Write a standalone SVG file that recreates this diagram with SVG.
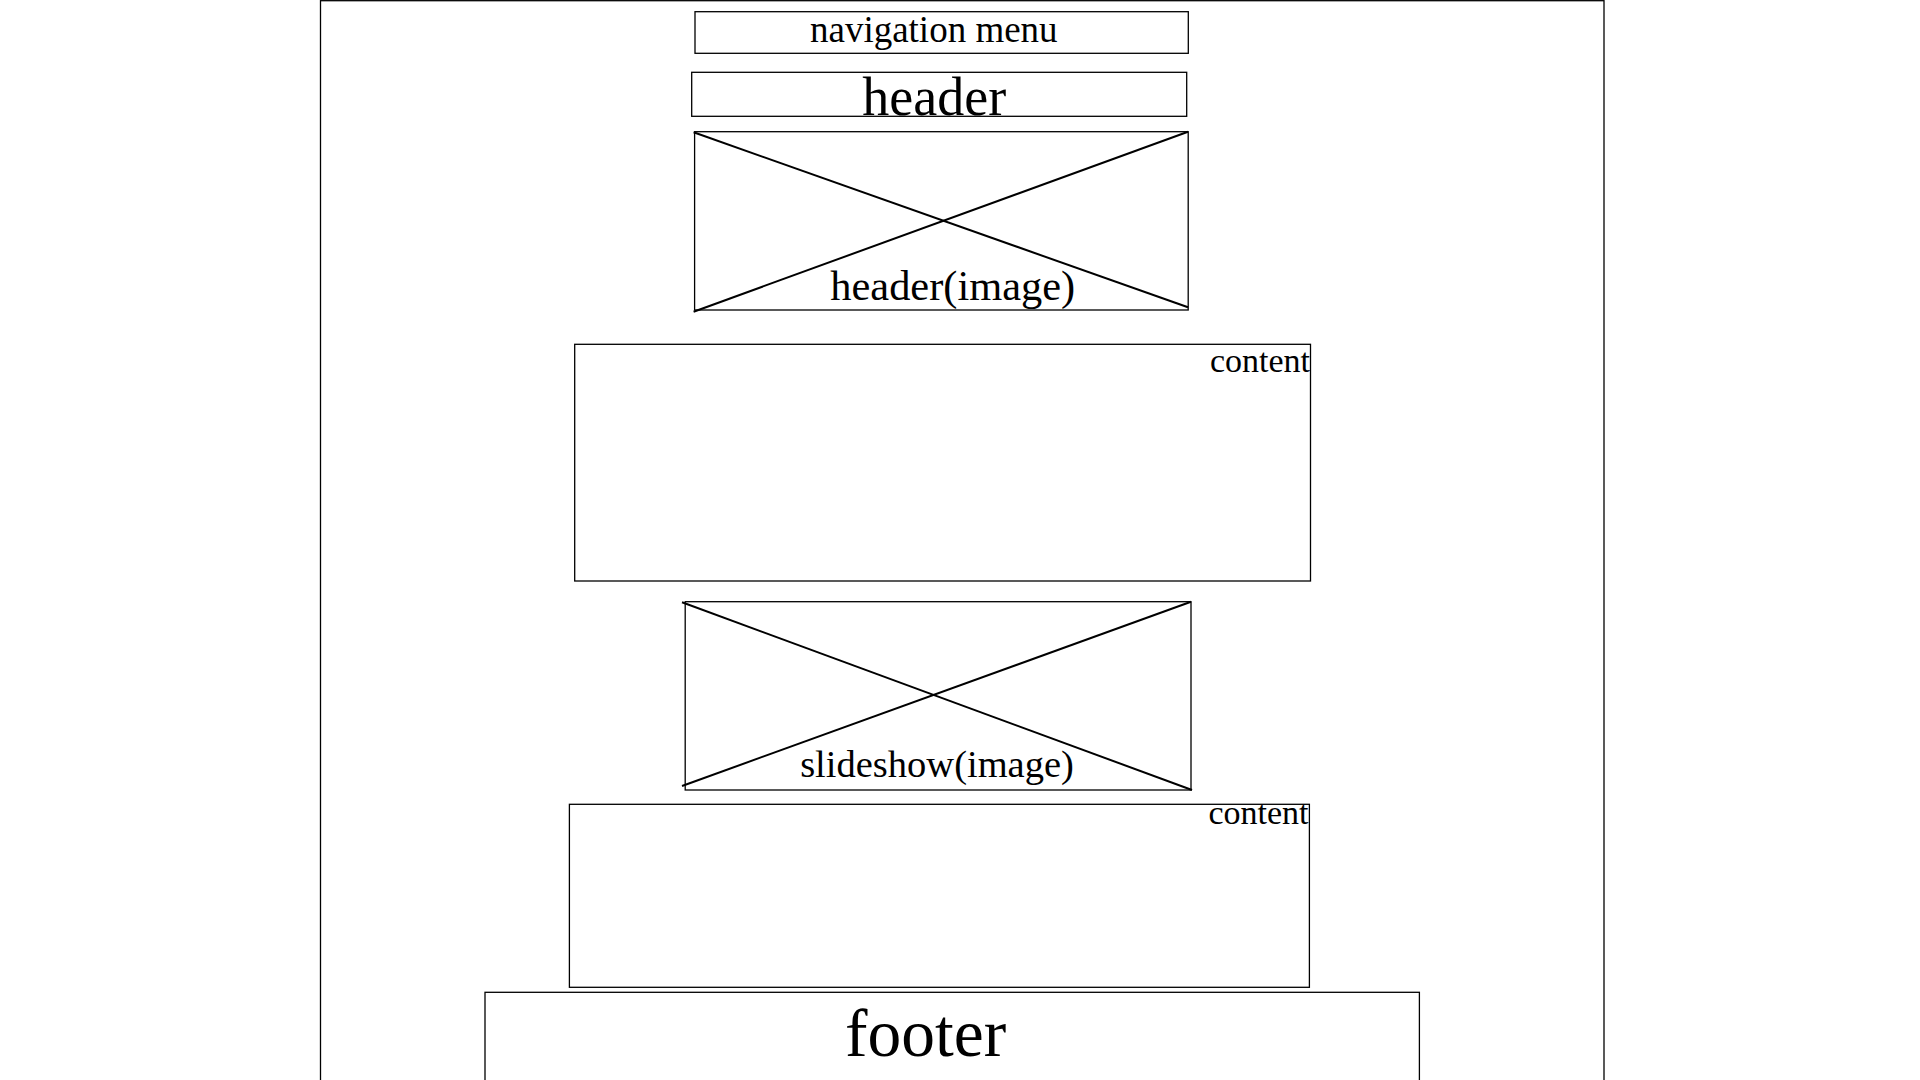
<svg xmlns="http://www.w3.org/2000/svg" width="1920" height="1080" viewBox="0 0 1920 1080">
  <style>
    .box { fill: #ffffff; stroke: #000000; stroke-width: 1.3; }
    .frame { fill: #ffffff; stroke: #000000; stroke-width: 1.3; }
    .cross { stroke: #000000; stroke-width: 2; fill: none; }
    .lbl { font-family: "Liberation Serif", "Times New Roman", serif; fill: #000000; }
  </style>
  <rect x="0" y="0" width="1920" height="1080" fill="#ffffff"/>
  <g id="page">
    <rect class="frame" x="320.5" y="0.7" width="1283.5" height="1100"/>
  </g>
  <g id="navigation-menu">
    <rect class="box" x="695" y="11.7" width="493.3" height="41.6"/>
    <text class="lbl" x="933.8" y="41.7" font-size="37" text-anchor="middle">navigation menu</text>
  </g>
  <g id="header">
    <rect class="box" x="691.7" y="72.3" width="495" height="44"/>
    <text class="lbl" x="934.3" y="115" font-size="54" text-anchor="middle">header</text>
  </g>
  <g id="header-image">
    <rect class="box" x="694.6" y="131.7" width="493.6" height="178.3"/>
    <line class="cross" x1="693.6" y1="132.3" x2="1188" y2="307.3"/>
    <line class="cross" x1="693.6" y1="311.7" x2="1188" y2="131.7"/>
    <text class="lbl" x="952.7" y="300" font-size="42.4" text-anchor="middle">header(image)</text>
  </g>
  <g id="content-1">
    <rect class="box" x="574.7" y="344.3" width="735.8" height="236.7"/>
    <text class="lbl" x="1310" y="372.3" font-size="34" text-anchor="end">content</text>
  </g>
  <g id="slideshow-image">
    <rect class="box" x="685.2" y="601.7" width="505.8" height="188.3"/>
    <line class="cross" x1="682" y1="602.3" x2="1192" y2="790"/>
    <line class="cross" x1="682" y1="786" x2="1191" y2="601.7"/>
    <text class="lbl" x="937" y="777" font-size="38.5" text-anchor="middle">slideshow(image)</text>
  </g>
  <g id="content-2">
    <rect class="box" x="569.4" y="804.3" width="740" height="183"/>
    <text class="lbl" x="1308.5" y="824" font-size="34" text-anchor="end">content</text>
  </g>
  <g id="footer">
    <rect class="box" x="485" y="992.3" width="934.4" height="120"/>
    <text class="lbl" x="925.6" y="1055.7" font-size="67.5" text-anchor="middle">footer</text>
  </g>
  <g id="connectors"/>
</svg>
